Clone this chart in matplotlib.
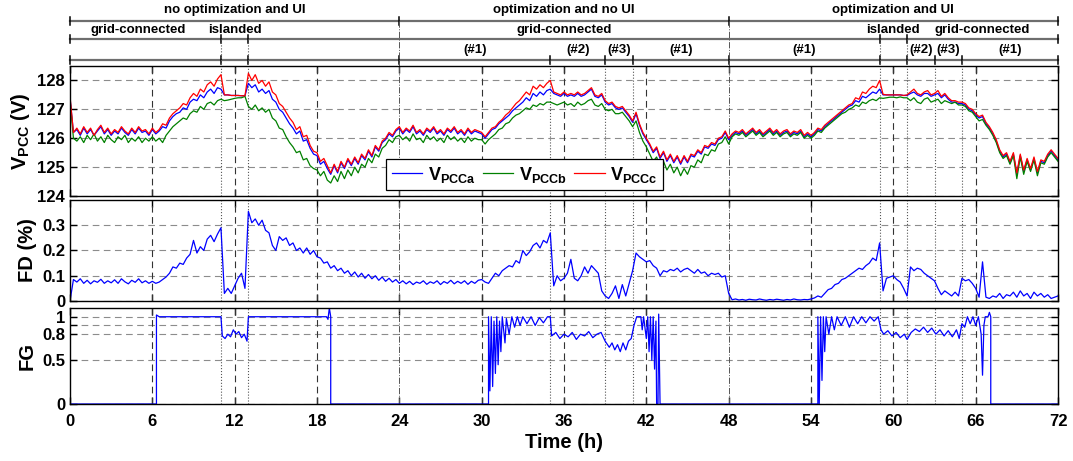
import numpy as np
import matplotlib
matplotlib.use("Agg")
import matplotlib.pyplot as plt

plt.rcParams['font.family'] = 'Liberation Sans'
plt.rcParams['font.weight'] = 'bold'
plt.rcParams['mathtext.fontset'] = 'custom'
plt.rcParams['mathtext.bf'] = 'Liberation Sans:bold'
plt.rcParams['mathtext.rm'] = 'Liberation Sans:bold'
plt.rcParams['mathtext.it'] = 'Liberation Sans:bold'
plt.rcParams['mathtext.default'] = 'bf'

# -------------------- data --------------------

# sample times of the voltage / FD traces, every 15 min over 72 h
t = np.linspace(0, 72, 289)

# phase c voltage (V), one row per 6 h
v_c = [
    127.45, 126.2, 126.35, 126.15, 126.4, 126.2, 126.35, 126.1, 126.3, 126.45, 126.2, 126.35, 126.15, 126.3, 126.2, 126.4, 126.25, 126.15, 126.35, 126.2, 126.4, 126.25, 126.3, 126.15,
    126.35, 126.2, 126.3, 126.5, 126.45, 126.7, 126.85, 126.95, 127.05, 127.2, 127.15, 127.4, 127.55, 127.45, 127.7, 127.6, 127.85, 127.95, 127.8, 128.05, 128.2, 127.5, 127.5, 127.48,
    127.48, 127.48, 127.47, 127.47, 128.25, 128.0, 128.2, 127.9, 128.0, 127.8, 127.95, 127.6, 127.5, 127.2, 127.1, 126.9, 126.7, 126.55, 126.3, 126.4, 126.05, 126.1, 125.75, 125.55,
    125.5, 125.2, 125.3, 125.05, 124.8, 125.1, 124.85, 125.2, 125.0, 125.3, 125.1, 125.35, 125.15, 125.45, 125.3, 125.6, 125.4, 125.75, 125.6, 125.9, 126.0, 126.2, 126.1, 126.3,
    126.4, 126.2, 126.35, 126.25, 126.45, 126.2, 126.3, 126.15, 126.35, 126.25, 126.4, 126.2, 126.3, 126.15, 126.35, 126.25, 126.4, 126.2, 126.3, 126.15, 126.35, 126.2, 126.3, 126.25,
    126.2, 126.05, 126.2, 126.35, 126.4, 126.55, 126.65, 126.8, 126.9, 127.05, 127.2, 127.3, 127.45, 127.6, 127.5, 127.8, 127.7, 127.85, 127.75, 127.9, 128.0, 127.6, 127.55, 127.5,
    127.6, 127.5, 127.55, 127.5, 127.6, 127.5, 127.55, 127.65, 127.75, 127.5, 127.45, 127.55, 127.3, 127.2, 127.25, 127.1, 127.05, 127.1, 126.95, 126.8, 126.6, 126.9, 126.5, 126.2,
    126.0, 125.8, 125.55, 125.7, 125.35, 125.55, 125.25, 125.45, 125.2, 125.4, 125.15, 125.4, 125.2, 125.45, 125.4, 125.6, 125.5, 125.75, 125.7, 125.85, 125.8, 126.0, 126.05, 126.25,
    126.0, 126.15, 126.25, 126.2, 126.3, 126.15, 126.25, 126.35, 126.2, 126.3, 126.15, 126.25, 126.35, 126.2, 126.3, 126.15, 126.25, 126.3, 126.15, 126.25, 126.2, 126.3, 126.1, 126.2,
    126.1, 126.2, 126.35, 126.3, 126.45, 126.55, 126.65, 126.75, 126.85, 126.95, 127.05, 127.15, 127.2, 127.4, 127.35, 127.6, 127.55, 127.7, 127.8, 127.75, 128.0, 127.52, 127.5, 127.5,
    127.5, 127.5, 127.5, 127.48, 127.5, 127.6, 127.7, 127.55, 127.5, 127.6, 127.65, 127.5, 127.55, 127.65, 127.45, 127.55, 127.4, 127.3, 127.3, 127.25, 127.25, 127.2, 127.05, 127.0,
    126.85, 126.75, 126.8, 126.55, 126.4, 126.2, 125.95, 125.6, 125.4, 125.5, 125.2, 125.5, 124.8, 125.45, 124.9, 125.3, 124.95, 125.35, 124.85, 125.25, 125.2, 125.45, 125.6, 125.45,
    125.3,
]

# phase a voltage (V)
v_a = [
    127.4, 126.2, 126.3, 126.1, 126.35, 126.15, 126.3, 126.1, 126.25, 126.4, 126.15, 126.3, 126.1, 126.25, 126.15, 126.35, 126.2, 126.1, 126.3, 126.15, 126.35, 126.2, 126.25, 126.1,
    126.3, 126.15, 126.25, 126.4, 126.35, 126.6, 126.75, 126.85, 126.9, 127.05, 127.0, 127.25, 127.35, 127.3, 127.5, 127.4, 127.6, 127.7, 127.55, 127.75, 127.7, 127.5, 127.5, 127.48,
    127.48, 127.48, 127.47, 127.47, 127.9, 127.75, 127.85, 127.6, 127.7, 127.55, 127.65, 127.35, 127.25, 127.0, 126.9, 126.7, 126.5, 126.35, 126.15, 126.25, 125.9, 125.95, 125.65, 125.45,
    125.4, 125.1, 125.2, 124.95, 124.75, 125.05, 124.8, 125.15, 124.95, 125.25, 125.05, 125.3, 125.1, 125.4, 125.25, 125.55, 125.35, 125.7, 125.55, 125.85, 125.95, 126.15, 126.05, 126.25,
    126.35, 126.15, 126.3, 126.2, 126.4, 126.15, 126.25, 126.1, 126.3, 126.2, 126.35, 126.15, 126.25, 126.1, 126.3, 126.2, 126.35, 126.15, 126.25, 126.1, 126.3, 126.15, 126.25, 126.2,
    126.15, 126.0, 126.15, 126.3, 126.35, 126.5, 126.6, 126.7, 126.8, 126.95, 127.05, 127.15, 127.25, 127.4, 127.3, 127.55, 127.45, 127.6, 127.5, 127.65, 127.7, 127.55, 127.5, 127.45,
    127.55, 127.45, 127.5, 127.45, 127.55, 127.45, 127.5, 127.6, 127.7, 127.45, 127.4, 127.5, 127.25, 127.15, 127.2, 127.05, 127.0, 127.05, 126.9, 126.75, 126.55, 126.85, 126.45, 126.15,
    125.95, 125.75, 125.5, 125.65, 125.3, 125.5, 125.2, 125.4, 125.15, 125.35, 125.1, 125.35, 125.15, 125.4, 125.35, 125.55, 125.45, 125.7, 125.65, 125.8, 125.75, 125.95, 126.0, 126.2,
    125.95, 126.1, 126.2, 126.15, 126.25, 126.1, 126.2, 126.3, 126.15, 126.25, 126.1, 126.2, 126.3, 126.15, 126.25, 126.1, 126.2, 126.25, 126.1, 126.2, 126.15, 126.25, 126.05, 126.15,
    126.05, 126.15, 126.3, 126.25, 126.4, 126.5, 126.6, 126.7, 126.8, 126.9, 127.0, 127.1, 127.15, 127.3, 127.25, 127.45, 127.4, 127.5, 127.6, 127.55, 127.7, 127.5, 127.5, 127.5,
    127.5, 127.5, 127.5, 127.48, 127.48, 127.55, 127.6, 127.5, 127.45, 127.55, 127.55, 127.45, 127.5, 127.55, 127.4, 127.5, 127.35, 127.25, 127.25, 127.2, 127.2, 127.15, 127.0, 126.95,
    126.8, 126.7, 126.75, 126.5, 126.35, 126.15, 125.9, 125.55, 125.35, 125.45, 125.15, 125.45, 124.75, 125.4, 124.85, 125.25, 124.9, 125.3, 124.8, 125.2, 125.15, 125.4, 125.55, 125.4,
    125.25,
]

# phase b voltage (V)
v_b = [
    127.35, 126.0, 125.9, 126.05, 125.85, 126.1, 125.95, 126.15, 125.9, 126.05, 125.85, 126.1, 125.95, 125.85, 126.05, 125.95, 126.1, 125.85, 126.0, 125.9, 126.05, 125.85, 126.0, 125.9,
    126.05, 125.9, 126.0, 125.85, 126.1, 126.25, 126.4, 126.5, 126.6, 126.7, 126.65, 126.85, 126.95, 126.9, 127.1, 127.0, 127.2, 127.25, 127.15, 127.3, 127.35, 127.3, 127.32, 127.35,
    127.38, 127.4, 127.4, 127.45, 127.1, 127.0, 127.15, 126.95, 127.05, 126.9, 127.0, 126.7, 126.6, 126.35, 126.3, 126.05, 125.85, 125.7, 125.5, 125.55, 125.25, 125.3, 125.05, 124.95,
    124.9, 124.7, 124.85, 124.55, 124.45, 124.7, 124.5, 124.85, 124.6, 124.9, 124.7, 125.0, 124.8, 125.1, 125.0, 125.3, 125.15, 125.45, 125.35, 125.65, 125.75, 125.95, 125.85, 126.05,
    126.1, 125.95, 126.05, 125.9, 126.15, 125.95, 126.0, 125.85, 126.1, 125.95, 126.05, 125.9, 126.0, 125.85, 126.1, 125.95, 126.05, 125.9, 126.0, 125.85, 126.05, 125.9, 126.0, 125.95,
    125.95, 125.8, 125.95, 126.05, 126.15, 126.3, 126.35, 126.5, 126.55, 126.7, 126.8, 126.85, 126.95, 127.05, 127.0, 127.15, 127.1, 127.2, 127.15, 127.25, 127.25, 127.2, 127.15, 127.2,
    127.25, 127.15, 127.2, 127.1, 127.25, 127.15, 127.2, 127.3, 127.35, 127.15, 127.1, 127.2, 127.0, 126.95, 127.0, 126.85, 126.85, 126.9, 126.75, 126.6, 126.4, 126.6, 126.2, 125.9,
    125.7, 125.45, 125.2, 125.35, 125.0, 125.2, 124.9, 125.1, 124.8, 125.0, 124.7, 124.95, 124.75, 125.05, 125.0, 125.25, 125.15, 125.45, 125.4, 125.6, 125.55, 125.8, 125.85, 126.05,
    125.8, 126.05, 126.15, 126.1, 126.2, 126.05, 126.15, 126.25, 126.1, 126.2, 126.05, 126.15, 126.25, 126.1, 126.2, 126.05, 126.15, 126.2, 126.05, 126.15, 126.1, 126.2, 126.0, 126.1,
    126.0, 126.1, 126.25, 126.2, 126.35, 126.45, 126.55, 126.65, 126.75, 126.85, 126.9, 127.0, 127.05, 127.15, 127.1, 127.25, 127.2, 127.3, 127.35, 127.3, 127.4, 127.38, 127.4, 127.42,
    127.42, 127.4, 127.43, 127.4, 127.4, 127.3, 127.4, 127.25, 127.2, 127.35, 127.4, 127.25, 127.3, 127.35, 127.2, 127.3, 127.25, 127.2, 127.25, 127.15, 127.15, 127.1, 126.95, 126.9,
    126.75, 126.6, 126.65, 126.45, 126.3, 126.1, 125.85, 125.5, 125.3, 125.4, 125.1, 125.4, 124.6, 125.35, 124.75, 125.2, 124.85, 125.25, 124.7, 125.15, 125.1, 125.35, 125.5, 125.35,
    125.2,
]

# FD (%)
fd = [
    0.0, 0.085, 0.075, 0.088, 0.07, 0.082, 0.068, 0.08, 0.074, 0.086, 0.07, 0.08, 0.072, 0.084, 0.07, 0.088, 0.076, 0.068, 0.082, 0.074, 0.088, 0.072, 0.08, 0.07,
    0.078, 0.07, 0.075, 0.085, 0.095, 0.11, 0.135, 0.13, 0.15, 0.145, 0.17, 0.185, 0.24, 0.19, 0.215, 0.2, 0.245, 0.26, 0.235, 0.265, 0.29, 0.03, 0.05, 0.03,
    0.06, 0.09, 0.11, 0.05, 0.355, 0.31, 0.325, 0.3, 0.32, 0.28, 0.27, 0.22, 0.2, 0.255, 0.24, 0.25, 0.22, 0.23, 0.2, 0.21, 0.19, 0.21, 0.185, 0.2,
    0.175, 0.17, 0.15, 0.155, 0.13, 0.14, 0.12, 0.13, 0.11, 0.12, 0.1, 0.115, 0.095, 0.11, 0.09, 0.105, 0.088, 0.1, 0.082, 0.095, 0.078, 0.09, 0.075, 0.085,
    0.07, 0.08, 0.068, 0.078, 0.065, 0.075, 0.07, 0.08, 0.066, 0.076, 0.07, 0.08, 0.065, 0.077, 0.07, 0.082, 0.068, 0.078, 0.07, 0.08, 0.066, 0.078, 0.07, 0.082,
    0.085, 0.075, 0.07, 0.09, 0.11, 0.1, 0.12, 0.13, 0.14, 0.135, 0.16, 0.15, 0.2, 0.18, 0.195, 0.22, 0.23, 0.21, 0.24, 0.23, 0.27, 0.06, 0.1, 0.08,
    0.09, 0.11, 0.165, 0.09, 0.08, 0.1, 0.135, 0.11, 0.14, 0.125, 0.11, 0.04, 0.02, 0.01, 0.03, 0.06, 0.01, 0.065, 0.02, 0.07, 0.12, 0.19, 0.175, 0.165,
    0.155, 0.16, 0.14, 0.13, 0.1, 0.12, 0.115, 0.125, 0.12, 0.13, 0.115, 0.125, 0.13, 0.12, 0.11, 0.125, 0.11, 0.115, 0.1, 0.11, 0.105, 0.11, 0.095, 0.1,
    0.03, 0.005, 0.008, 0.004, 0.006, 0.003, 0.007, 0.005, 0.004, 0.008, 0.005, 0.003, 0.006, 0.004, 0.007, 0.005, 0.003, 0.006, 0.004, 0.008, 0.005, 0.004, 0.006, 0.005,
    0.008, 0.012, 0.02, 0.015, 0.03, 0.045, 0.05, 0.065, 0.07, 0.085, 0.09, 0.1, 0.11, 0.12, 0.13, 0.125, 0.14, 0.15, 0.17, 0.16, 0.23, 0.04, 0.09, 0.095,
    0.1, 0.085, 0.075, 0.05, 0.02, 0.135, 0.12, 0.13, 0.125, 0.11, 0.1, 0.09, 0.08, 0.05, 0.025, 0.04, 0.03, 0.02, 0.035, 0.02, 0.09, 0.08, 0.085, 0.07,
    0.05, 0.015, 0.155, 0.015, 0.01, 0.02, 0.015, 0.03, 0.01, 0.025, 0.02, 0.035, 0.015, 0.04, 0.02, 0.03, 0.01, 0.035, 0.02, 0.03, 0.015, 0.025, 0.01, 0.015,
    0.02,
]

# FG breakpoints (h, value)
fg_t = [0, 6.3, 6.3, 6.5, 11.0, 11.1, 11.3, 11.5, 11.7, 11.9, 12.1, 12.3, 12.5, 12.7, 12.9, 13.0, 18.7, 18.8, 18.9, 19.0, 19.0,
        30.5, 30.5, 30.6, 30.7, 30.8, 30.9, 31.0, 31.1, 31.2, 31.3, 31.4, 31.5, 31.7, 31.8, 32.0, 32.2, 32.4, 32.6, 32.8, 33.0,
        33.3, 33.6, 33.9, 34.2, 34.5, 34.8, 35.0, 35.1, 35.4, 35.7, 36.0, 36.3, 36.6, 36.9, 37.2, 37.5, 37.8, 38.1, 38.4, 38.7,
        39.0, 39.3, 39.5, 39.7, 39.9, 40.1, 40.3, 40.5, 40.7, 40.9, 41.1, 41.3, 41.6, 41.7, 41.8, 42.0, 42.1, 42.2, 42.3, 42.4,
        42.5, 42.6, 42.7, 42.75, 42.85, 42.9, 43.0, 54.5, 54.5, 54.6, 54.7, 54.8, 54.9, 55.0, 55.1, 55.3, 55.5, 55.7, 55.9, 56.2,
        56.5, 56.8, 57.1, 57.4, 57.7, 58.0, 58.3, 58.6, 58.9, 59.1, 59.3, 59.6, 59.9, 60.2, 60.5, 60.8, 61.0, 61.3, 61.6, 61.9,
        62.2, 62.5, 62.8, 63.1, 63.4, 63.7, 64.0, 64.3, 64.6, 64.8, 65.0, 65.2, 65.4, 65.6, 65.8, 66.0, 66.2, 66.4, 66.5, 66.6,
        66.7, 66.9, 67.0, 67.1, 67.1, 72]
fg_v = [0, 0, 1.02, 1.0, 1.0, 0.78, 0.75, 0.8, 0.77, 0.85, 0.8, 0.83, 0.76, 0.8, 0.72, 1.0, 1.0, 0.97, 1.1, 1.0, 0,
        0, 1.0, 0.15, 1.0, 0.2, 0.95, 0.35, 1.0, 0.45, 0.95, 0.6, 1.0, 0.7, 0.98, 0.8, 1.0, 0.88, 1.0, 0.9, 1.0,
        0.92, 1.0, 0.9, 0.99, 0.93, 1.0, 1.0, 0.78, 0.82, 0.75, 0.8, 0.77, 0.82, 0.74, 0.8, 0.78, 0.83, 0.76, 0.8, 0.82,
        0.72, 0.65, 0.7, 0.62, 0.68, 0.6, 0.7, 0.62, 0.72, 0.75, 0.9, 1.0, 1.0, 0.85, 1.0, 0.75, 1.0, 0.6, 1.0, 0.5,
        1.0, 0.4, 0.95, 0, 0, 1.03, 0, 0, 1.0, 0, 1.0, 0.27, 1.0, 0.6, 1.0, 0.8, 1.0, 0.85, 1.0, 0.9,
        1.0, 0.88, 1.0, 0.92, 1.0, 0.93, 1.0, 0.95, 1.0, 0.85, 0.8, 0.84, 0.78, 0.82, 0.76, 0.8, 0.74, 0.82, 0.86, 0.83,
        0.88, 0.82, 0.87, 0.8, 0.85, 0.78, 0.84, 0.77, 0.85, 0.75, 0.92, 0.88, 1.0, 0.92, 1.0, 0.9, 1.0, 0.8, 0.33, 0.9,
        1.0, 1.0, 1.05, 1.0, 0, 0]

# scenario / operating-mode bars above the plot
scenarios = [("no optimization and UI", 12), ("optimization and no UI", 36), ("optimization and UI", 60)]
modes = [("grid-connected", 5.0), ("islanded", 12), ("grid-connected", 36), ("islanded", 60), ("grid-connected", 66.5)]
cases = [("(#1)", 29.5), ("(#2)", 37), ("(#3)", 40), ("(#1)", 44.5), ("(#1)", 53.5), ("(#2)", 62), ("(#3)", 64), ("(#1)", 68.5)]
caps1 = [0, 24, 48, 72]
caps2 = [0, 11, 13, 59, 61, 72]
caps3 = [0, 11, 13, 24, 35, 39, 41, 48, 59, 61, 63, 65, 72]
events = [11, 13, 35, 39, 41, 59, 61, 63, 65]

# -------------------- layout --------------------

W, H = 1073, 461
fig = plt.figure(figsize=(W / 100, H / 100), dpi=100)
L, R = 70 / W, 1058 / W


def ax_at(top, bottom):
    return fig.add_axes([L, 1 - bottom / H, R - L, (bottom - top) / H])


ax_top = ax_at(0, 66)
ax_v = ax_at(66, 196)
ax_fd = ax_at(200, 301)
ax_fg = ax_at(308, 404)

grid_h = dict(color='#8c8c8c', ls=(0, (6, 4)), lw=0.8)

for ax in (ax_v, ax_fd, ax_fg):
    ax.set_xlim(0, 72)
    ax.set_xticks(range(0, 73, 6))
    ax.tick_params(direction='in', top=True, right=True, length=5, width=1, labelsize=12)
    ax.tick_params(axis='x', pad=7)
    ax.yaxis.grid(True, **grid_h)
    ax.set_axisbelow(True)
    for x in [6, 12, 18, 30, 36, 42, 54, 60, 66]:
        ax.axvline(x, color='#333333', ls=(0, (6, 4)), lw=0.8, zorder=1)
    for x in (24, 48):
        ax.axvline(x, color='#555555', ls='-.', lw=0.7, zorder=1)
    for x in events:
        ax.axvline(x, color='#555555', ls=':', lw=0.8, zorder=1)
    for s in ax.spines.values():
        s.set_linewidth(1)

# voltages
ax_v.plot(t, v_a, color='#0000ff', lw=0.9, label=r'$V_{PCCa}$')
ax_v.plot(t, v_b, color='#008000', lw=0.9, label=r'$V_{PCCb}$')
ax_v.plot(t, v_c, color='#ff0000', lw=0.9, label=r'$V_{PCCc}$')
ax_v.set_ylim(124, 128.5)
ax_v.set_yticks([124, 125, 126, 127, 128])
ax_v.set_xticklabels([])
ax_v.set_ylabel(r'$V_{PCC}$ (V)', fontsize=14.5, fontweight='bold', labelpad=4)
leg = ax_v.legend(loc='lower left', bbox_to_anchor=(0.32, 0.045), borderaxespad=0, ncol=3,
                  fontsize=13, frameon=True, fancybox=False, edgecolor='black', framealpha=1,
                  handlelength=1.7, handletextpad=0.3, columnspacing=0.4, borderpad=0.3)
leg.get_frame().set_linewidth(0.9)

# FD
ax_fd.plot(t, fd, color='#0000ff', lw=0.9)
ax_fd.set_ylim(0, 0.4)
ax_fd.set_yticks([0, 0.1, 0.2, 0.3])
ax_fd.set_yticklabels(['0', '0.1', '0.2', '0.3'])
ax_fd.set_xticklabels([])
ax_fd.set_ylabel('FD (%)', fontsize=14.5, fontweight='bold', labelpad=4)

# FG
ax_fg.plot(fg_t, fg_v, color='#0000ff', lw=0.9)
ax_fg.set_ylim(0, 1.1)
ax_fg.set_yticks([0, 0.5, 0.8, 0.9, 1])
ax_fg.set_yticklabels(['0', '0.5', '0.8', '', '1'])
ax_fg.set_ylabel('FG', fontsize=14.5, fontweight='bold', labelpad=4)
ax_fg.set_xlabel('Time (h)', fontsize=14.5, fontweight='bold', labelpad=3)

# -------------------- annotation bars --------------------

ax_top.set_xlim(0, 72)
ax_top.set_ylim(66, 0)
ax_top.axis('off')
rows = [21, 39.5, 60]
for y, caps in zip(rows, (caps1, caps2, caps3)):
    ax_top.plot([0, 72], [y, y], color='#6e6e6e', lw=1.6, clip_on=False)
    for x in caps:
        ax_top.plot([x, x], [y - 4, y + 4], color='black', lw=1.1, clip_on=False)
for x in (24, 48):
    ax_top.plot([x, x], [rows[0], 66], color='#555555', ls='-.', lw=0.7, clip_on=False)
for x in events:
    y0 = rows[1] if x in caps2 else rows[2]
    ax_top.plot([x, x], [y0, 66], color='#555555', ls=':', lw=0.8, clip_on=False)

for txt, x in scenarios:
    ax_top.text(x, 10.5, txt, ha='center', va='center', fontsize=9.5, fontweight='bold')
for txt, x in modes:
    ax_top.text(x, 30, txt, ha='center', va='center', fontsize=9.5, fontweight='bold')
for txt, x in cases:
    ax_top.text(x, 49.5, txt, ha='center', va='center', fontsize=9.5, fontweight='bold')

fig.savefig('out.png', dpi=100)
